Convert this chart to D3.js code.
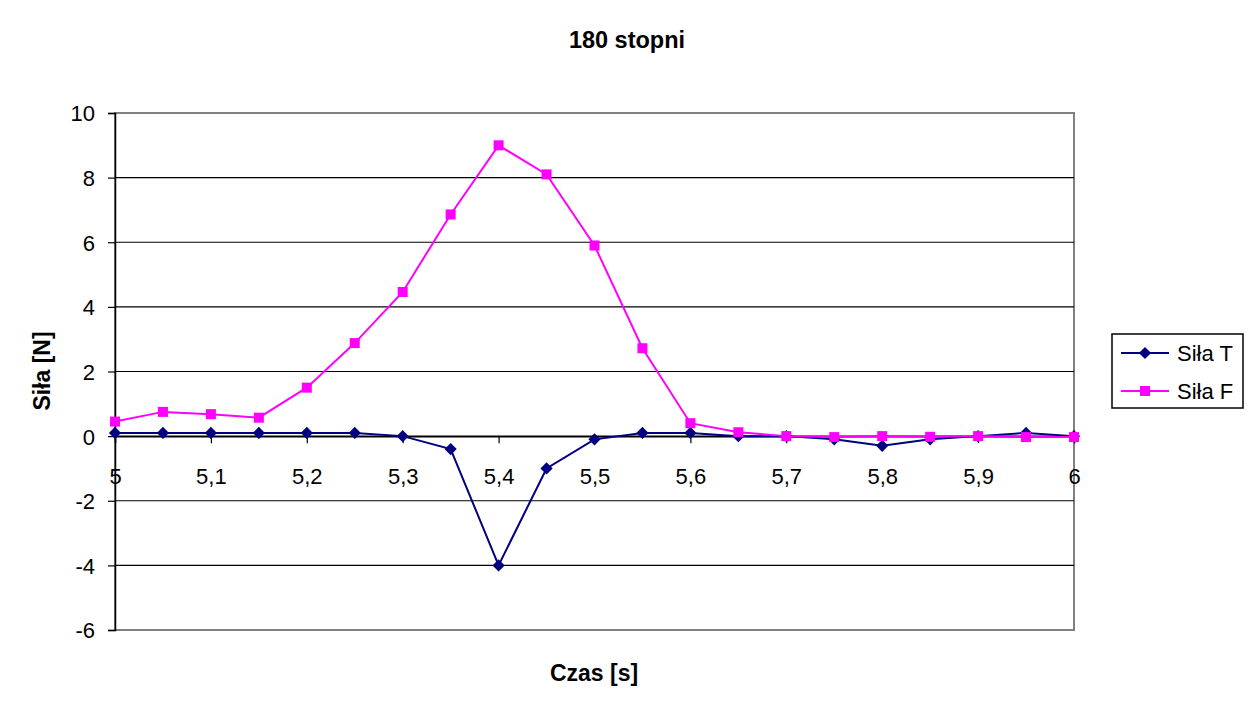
<!DOCTYPE html>
<html>
<head>
<meta charset="utf-8">
<script src="https://cdn.jsdelivr.net/npm/d3@7"></script>
<style>
  body { margin: 0; background: #fff; }
  text { font-family: "Liberation Sans", Arial, sans-serif; fill: #000; }
</style>
</head>
<body>
<script>
// data
var czas = [5, 5.05, 5.1, 5.15, 5.2, 5.25, 5.3, 5.35, 5.4, 5.45, 5.5,
            5.55, 5.6, 5.65, 5.7, 5.75, 5.8, 5.85, 5.9, 5.95, 6];
var silaT = [0.1, 0.1, 0.1, 0.1, 0.1, 0.1, 0, -0.4, -4.0, -1.0, -0.1,
             0.1, 0.1, 0, 0, -0.1, -0.3, -0.1, 0, 0.1, 0];
var silaF = [0.45, 0.75, 0.68, 0.57, 1.5, 2.88, 4.46, 6.86, 9.0, 8.1, 5.9,
             2.72, 0.4, 0.12, 0, -0.03, 0, -0.02, 0, -0.03, -0.03];
var xTicks = [5, 5.1, 5.2, 5.3, 5.4, 5.5, 5.6, 5.7, 5.8, 5.9, 6];
var yTicks = [-6, -4, -2, 0, 2, 4, 6, 8, 10];
var seriesNames = ["Siła T", "Siła F"];

var W = 1253, H = 713;
var plot = {left: 115, right: 1074, top: 113, bottom: 630};

var svg = d3.select("body").append("svg")
    .attr("width", W)
    .attr("height", H);

var x = d3.scaleLinear().domain([5, 6]).range([plot.left, plot.right]);
var y = d3.scaleLinear().domain([-6, 10]).range([plot.bottom, plot.top]);

// plot area border
svg.append("rect")
    .attr("x", plot.left).attr("y", plot.top)
    .attr("width", plot.right - plot.left).attr("height", plot.bottom - plot.top)
    .attr("fill", "#fff").attr("stroke", "#808080").attr("stroke-width", 2);

// gridlines
svg.append("g").selectAll("line")
    .data(yTicks.filter(d => d > -6 && d < 10))
    .enter().append("line")
    .attr("x1", plot.left).attr("x2", plot.right)
    .attr("y1", d => y(d)).attr("y2", d => y(d))
    .attr("stroke", "#000").attr("stroke-width", 1.2);

// y axis
var yAxis = svg.append("g")
    .attr("transform", "translate(" + plot.left + ",0)")
    .call(d3.axisLeft(y).tickValues(yTicks).tickSize(7).tickPadding(13).tickFormat(d => String(d)));
yAxis.select(".domain").attr("stroke", "#000").attr("stroke-width", 1.5);
yAxis.selectAll(".tick line").attr("stroke", "#000").attr("stroke-width", 1.2);
yAxis.selectAll("text").style("font-size", "22px").attr("dy", "0.36em");

// x axis on y=0
var fmtX = d => d3.format(".1f")(d).replace(".", ",").replace(",0", "");
var xAxis = svg.append("g")
    .attr("transform", "translate(0," + y(0) + ")")
    .call(d3.axisBottom(x).tickValues(xTicks).tickSize(7).tickPadding(41).tickFormat(fmtX));
xAxis.select(".domain").attr("stroke", "#000").attr("stroke-width", 1.5);
xAxis.selectAll(".tick line").attr("stroke", "#000").attr("stroke-width", 1.2);
xAxis.selectAll("text").style("font-size", "22px").attr("dy", "0");

var colors = ["#000080", "#ff00ff"];
var line = d3.line().x((d, i) => x(czas[i])).y(d => y(d));

// Siła T
svg.append("path").datum(silaT)
    .attr("d", line).attr("fill", "none")
    .attr("stroke", colors[0]).attr("stroke-width", 2);
svg.append("g").selectAll("path")
    .data(silaT).enter().append("path")
    .attr("d", d3.symbol(d3.symbolDiamond2, 95))
    .attr("transform", (d, i) => "translate(" + x(czas[i]) + "," + y(d) + ")")
    .attr("fill", colors[0]);

// Siła F
svg.append("path").datum(silaF)
    .attr("d", line).attr("fill", "none")
    .attr("stroke", colors[1]).attr("stroke-width", 2);
svg.append("g").selectAll("rect")
    .data(silaF).enter().append("rect")
    .attr("x", (d, i) => x(czas[i]) - 5)
    .attr("y", d => y(d) - 5)
    .attr("width", 10).attr("height", 10)
    .attr("fill", colors[1]);

// title and axis labels
svg.append("text")
    .attr("x", 627).attr("y", 48)
    .attr("text-anchor", "middle")
    .style("font-size", "23.5px").style("font-weight", "bold")
    .text("180 stopni");

svg.append("text")
    .attr("x", 594).attr("y", 681)
    .attr("text-anchor", "middle")
    .style("font-size", "23px").style("font-weight", "bold")
    .text("Czas [s]");

svg.append("text")
    .attr("transform", "translate(50,371) rotate(-90)")
    .attr("text-anchor", "middle")
    .style("font-size", "23px").style("font-weight", "bold")
    .text("Siła [N]");

// legend
var lg = svg.append("g");
lg.append("rect")
    .attr("x", 1112).attr("y", 334)
    .attr("width", 131).attr("height", 74)
    .attr("fill", "#fff").attr("stroke", "#000").attr("stroke-width", 1.5);

var rows = lg.selectAll("g.row")
    .data(seriesNames).enter().append("g")
    .attr("transform", (d, i) => "translate(0," + (353 + i * 38) + ")");
rows.append("line")
    .attr("x1", 1121).attr("x2", 1169).attr("y1", 0).attr("y2", 0)
    .attr("stroke", (d, i) => colors[i]).attr("stroke-width", 2);
rows.filter((d, i) => i === 0).append("path")
    .attr("d", d3.symbol(d3.symbolDiamond2, 95))
    .attr("transform", "translate(1145,0)")
    .attr("fill", colors[0]);
rows.filter((d, i) => i === 1).append("rect")
    .attr("x", 1140).attr("y", -5).attr("width", 10).attr("height", 10)
    .attr("fill", colors[1]);
rows.append("text")
    .attr("x", 1177).attr("y", 8)
    .style("font-size", "22px")
    .text(d => d);
</script>
</body>
</html>
